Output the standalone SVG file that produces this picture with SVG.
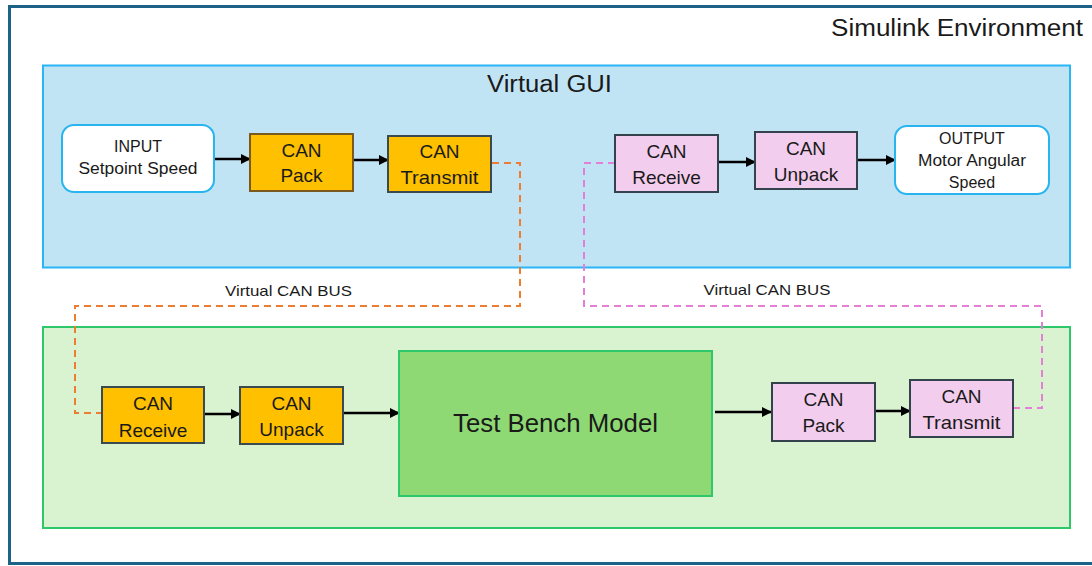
<svg xmlns="http://www.w3.org/2000/svg" width="1092" height="566" viewBox="0 0 1092 566">
  <style>
    text { font-family: "Liberation Sans", Arial, sans-serif; fill: #1a1a1a; text-anchor: middle; }
    .title { font-size: 23px; }
    .blk { font-size: 19px; }
    .io { font-size: 16px; }
    .bus { font-size: 15px; }
    .gold { fill: #ffc000; stroke: #3a4a50; stroke-width: 2; }
    .pink { fill: #f2cdee; stroke: #34424d; stroke-width: 2; }
    .io-box { fill: #ffffff; stroke: #27b4ef; stroke-width: 2; }
    .flow { stroke: #000000; stroke-width: 2.5; fill: none; marker-end: url(#arrow); }
    .bus-a { stroke: #ed7d31; stroke-width: 2; stroke-dasharray: 7 5; fill: none; }
    .bus-b { stroke: #e47fd8; stroke-width: 2; stroke-dasharray: 7 5; fill: none; }
  </style>
  <defs>
    <marker id="arrow" viewBox="0 0 10 10" refX="9" refY="5" markerWidth="4" markerHeight="4" orient="auto" markerUnits="strokeWidth">
      <path d="M0,0 L10,5 L0,10 z" fill="#000000"/>
    </marker>
  </defs>

  <rect width="1092" height="566" fill="#ffffff"/>

  <!-- outer frame -->
  <g id="simulink-env">
    <rect x="9.5" y="6.5" width="1100" height="557" fill="none" stroke="#1d6388" stroke-width="3"/>
    <text class="title" x="1083" y="36" style="text-anchor:end" textLength="252" lengthAdjust="spacingAndGlyphs">Simulink Environment</text>
  </g>

  <!-- GUI panel -->
  <g id="virtual-gui">
    <rect x="43" y="65.5" width="1027" height="202" fill="#c1e4f5" stroke="#29b6f6" stroke-width="2"/>
    <text class="title" x="549.5" y="92" textLength="125" lengthAdjust="spacingAndGlyphs">Virtual GUI</text>
  </g>

  <!-- plant panel -->
  <g id="plant-area">
    <rect x="43" y="327" width="1027" height="201" fill="#d9f2d0" stroke="#2ec76a" stroke-width="2"/>
  </g>

  <!-- bus and signal connectors -->
  <g id="connectors">
    <polyline class="bus-a" points="492,163 520,163 520,306 75,306 75,413 102,413"/>
    <polyline class="bus-b" points="615,163 584,163 584,306 1042,306 1042,408 1014,408"/>
    <text class="bus" x="288.5" y="296" textLength="127" lengthAdjust="spacingAndGlyphs">Virtual CAN BUS</text>
    <text class="bus" x="767" y="295" textLength="127" lengthAdjust="spacingAndGlyphs">Virtual CAN BUS</text>

    <line class="flow" x1="215" y1="159" x2="250" y2="159"/>
    <line class="flow" x1="354" y1="160" x2="388" y2="160"/>
    <line class="flow" x1="719" y1="162" x2="755" y2="162"/>
    <line class="flow" x1="858" y1="160" x2="895" y2="160"/>

    <line class="flow" x1="205" y1="414" x2="240" y2="414"/>
    <line class="flow" x1="344" y1="413" x2="399" y2="413"/>
    <line class="flow" x1="715" y1="412" x2="771" y2="412"/>
    <line class="flow" x1="876" y1="411" x2="910" y2="411"/>
  </g>

  <!-- GUI blocks -->
  <g id="input">
    <rect class="io-box" x="62" y="125" width="152" height="67" rx="12"/>
    <text class="io" x="138" y="152">INPUT</text>
    <text class="io" x="138" y="174" textLength="119" lengthAdjust="spacingAndGlyphs">Setpoint Speed</text>
  </g>
  <g id="gui-can-pack">
    <rect class="gold" x="250" y="134" width="103" height="57" style="stroke:#7a5a20"/>
    <text class="blk" x="301.5" y="157">CAN</text>
    <text class="blk" x="301.5" y="182">Pack</text>
  </g>
  <g id="gui-can-transmit">
    <rect class="gold" x="388" y="136" width="103" height="56"/>
    <text class="blk" x="439.5" y="158">CAN</text>
    <text class="blk" x="439.5" y="184" textLength="78" lengthAdjust="spacingAndGlyphs">Transmit</text>
  </g>
  <g id="gui-can-receive">
    <rect class="pink" x="615" y="135" width="103" height="57"/>
    <text class="blk" x="666.5" y="158">CAN</text>
    <text class="blk" x="666.5" y="184">Receive</text>
  </g>
  <g id="gui-can-unpack">
    <rect class="pink" x="755" y="132" width="102" height="57"/>
    <text class="blk" x="806" y="155">CAN</text>
    <text class="blk" x="806" y="181">Unpack</text>
  </g>
  <g id="output">
    <rect class="io-box" x="895" y="126" width="154" height="68" rx="12"/>
    <text class="io" x="972" y="144">OUTPUT</text>
    <text class="io" x="972" y="166" textLength="108" lengthAdjust="spacingAndGlyphs">Motor Angular</text>
    <text class="io" x="972" y="188">Speed</text>
  </g>

  <!-- plant blocks -->
  <g id="bench-can-receive">
    <rect class="gold" x="102" y="387" width="102" height="56"/>
    <text class="blk" x="153" y="410">CAN</text>
    <text class="blk" x="153" y="437">Receive</text>
  </g>
  <g id="bench-can-unpack">
    <rect class="gold" x="240" y="387" width="103" height="57"/>
    <text class="blk" x="291.5" y="410">CAN</text>
    <text class="blk" x="291.5" y="436">Unpack</text>
  </g>
  <g id="test-bench-model">
    <rect x="399" y="351" width="313" height="145" fill="#8fd975" stroke="#2ec76a" stroke-width="2"/>
    <text x="555.5" y="432" style="font-size:25px" textLength="205" lengthAdjust="spacingAndGlyphs">Test Bench Model</text>
  </g>
  <g id="bench-can-pack">
    <rect class="pink" x="772" y="383" width="103" height="58"/>
    <text class="blk" x="823.5" y="406">CAN</text>
    <text class="blk" x="823.5" y="432">Pack</text>
  </g>
  <g id="bench-can-transmit">
    <rect class="pink" x="910" y="380" width="103" height="57"/>
    <text class="blk" x="961.5" y="403">CAN</text>
    <text class="blk" x="961.5" y="429" textLength="78" lengthAdjust="spacingAndGlyphs">Transmit</text>
  </g>
</svg>
